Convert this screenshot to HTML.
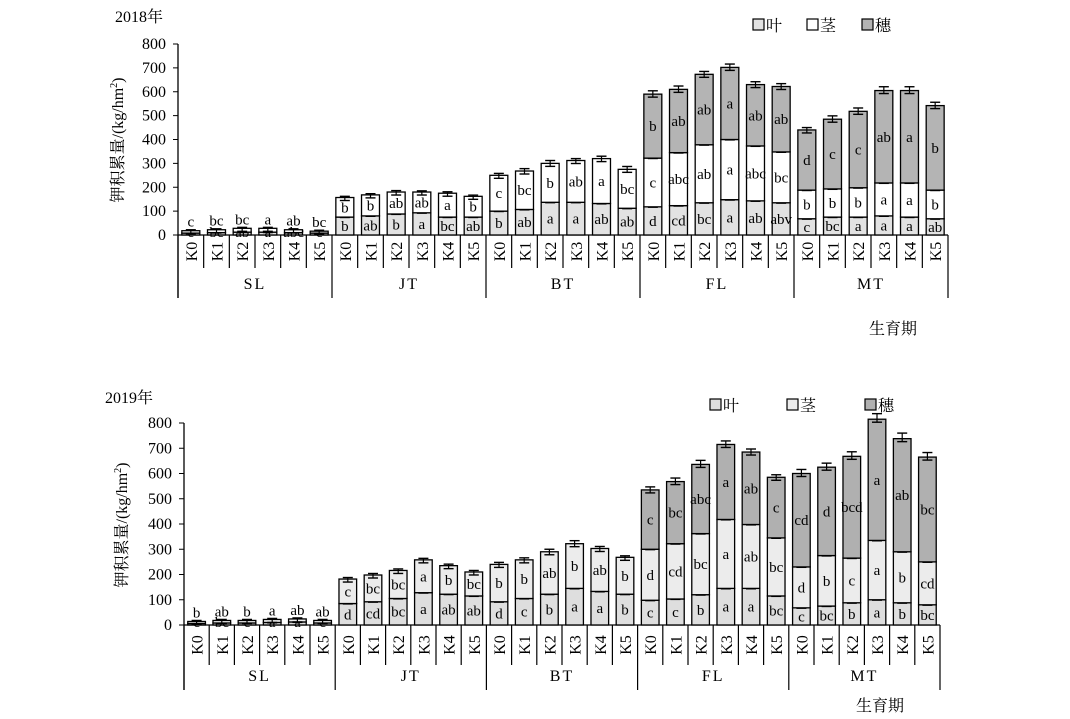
<!DOCTYPE html>
<html><head><meta charset="utf-8"><style>
html,body{margin:0;padding:0;background:#fff;}
svg{display:block;font-family:"Liberation Serif","Noto Serif CJK SC","Noto Sans CJK SC",serif;}
</style></head><body>
<svg id="chart" width="1070" height="719" viewBox="0 0 1070 719" xmlns="http://www.w3.org/2000/svg">
<text x="115" y="22" font-size="16">2018年</text>
<text x="105" y="403" font-size="16">2019年</text>
<text transform="translate(123,140) rotate(-90)" text-anchor="middle" font-size="16">钾积累量/(kg/hm<tspan font-size="10" dy="-6">2</tspan><tspan dy="6">)</tspan></text>
<text transform="translate(127,525) rotate(-90)" text-anchor="middle" font-size="16">钾积累量/(kg/hm<tspan font-size="10" dy="-6">2</tspan><tspan dy="6">)</tspan></text>
<text x="893" y="334" font-size="16" text-anchor="middle">生育期</text>
<text x="880" y="711" font-size="16" text-anchor="middle">生育期</text>
</svg>
<script>
const categories=["K0","K1","K2","K3","K4","K5"];
const groups=["SL","JT","BT","FL","MT"];
const yTicks=[0,100,200,300,400,500,600,700,800];
const leaf2018=[8,10,12,12,10,8, 75,80,88,93,75,75, 100,107,137,137,132,112, 118,123,135,148,143,135, 68,75,75,80,75,68];
const stem2018=[10,12,16,16,12,8, 82,88,92,87,100,87, 150,161,163,175,188,163, 204,222,243,252,230,213, 120,118,123,138,143,120];
const pan2018=[0,0,0,0,0,0, 0,0,0,0,0,0, 0,0,0,0,0,0, 268,265,295,302,257,274, 252,292,320,387,387,354];
const err2018=[4,4,4,4,4,4, 5,5,6,5,6,5, 8,10,12,8,10,12, 14,14,12,14,12,12, 10,14,14,16,16,14];
const leafLet2018=["e","bc","ab","a","abc","c", "b","ab","b","a","bc","ab", "b","ab","a","a","ab","ab", "d","cd","bc","a","ab","abv", "c","bc","a","a","a","ab"];
const stemLet2018=["c","bc","bc","a","ab","bc", "b","b","ab","ab","a","b", "c","bc","b","ab","a","bc", "c","abc","ab","a","abc","bc", "b","b","b","a","a","b"];
const panLet2018=["","","","","","", "","","","","","", "","","","","","", "b","ab","ab","a","ab","ab", "d","c","c","ab","a","b"];
const leaf2019=[6,8,8,10,12,8, 85,92,105,128,122,115, 92,105,122,145,133,122, 98,103,120,145,145,115, 68,75,88,100,88,80];
const stem2019=[8,10,10,12,12,10, 97,106,111,130,113,95, 148,153,168,177,170,146, 202,219,242,273,253,230, 162,200,177,235,202,170];
const pan2019=[0,0,0,0,0,0, 0,0,0,0,0,0, 0,0,0,0,0,0, 235,246,274,297,287,240, 370,350,403,480,448,415];
const err2019=[4,4,4,4,4,4, 6,6,6,6,6,6, 8,8,10,12,8,6, 12,14,16,14,12,10, 16,16,18,22,22,18];
const leafLet2019=["c","bc","c","a","a","c", "d","cd","bc","a","ab","ab", "d","c","b","a","a","b", "c","c","b","a","a","bc", "c","bc","b","a","b","bc"];
const stemLet2019=["b","ab","b","a","ab","ab", "c","bc","bc","a","b","bc", "b","b","ab","b","ab","b", "d","cd","bc","a","ab","bc", "d","b","c","a","b","cd"];
const panLet2019=["","","","","","", "","","","","","", "","","","","","", "c","bc","abc","a","ab","c", "cd","d","bcd","a","ab","bc"];

const NS="http://www.w3.org/2000/svg";
const svg=document.getElementById("chart");
function mk(tag,attrs,parent){const e=document.createElementNS(NS,tag);for(const k in attrs)e.setAttribute(k,attrs[k]);(parent||svg).appendChild(e);return e;}

function drawChart(cfg){
  const g=mk("g",{});
  
  
  const n=groups.length*categories.length;
  const slot=(cfg.x1-cfg.x0)/n;
  const yS=v=>cfg.y0-(v/800)*(cfg.y0-cfg.yTop);
  const xS=i=>cfg.x0+slot*(i+0.5);
  const bw=slot*0.7;
  // y axis
  const ax=mk("line",{x1:cfg.x0,x2:cfg.x0,y1:cfg.yTop,y2:cfg.groupBottom,stroke:"#000","stroke-width":1.3},g);
  
  
  yTicks.forEach(t=>{
    mk("line",{x1:cfg.x0-5,x2:cfg.x0,y1:yS(t),y2:yS(t),stroke:"#000"},g);
    const tx=mk("text",{x:cfg.x0-12,y:yS(t)+5,"text-anchor":"end","font-size":16},g);
    tx.textContent=t;
    
    
  });
  const xa=mk("line",{x1:cfg.x0,x2:cfg.x1,y1:cfg.y0,y2:cfg.y0,stroke:"#000","stroke-width":1.3},g);
  
  
  // category separators & labels
  for(let i=0;i<=n;i++){
    const x=cfg.x0+slot*i;
    const isG=i%categories.length===0;
    mk("line",{x1:x,x2:x,y1:cfg.y0,y2:isG?cfg.groupBottom:cfg.catBottom,stroke:"#000","stroke-width":1.2},g);
  }
  for(let i=0;i<n;i++){
    const cy=(cfg.y0+cfg.catBottom)/2;
    const t=mk("text",{transform:`translate(${xS(i)+6},${cy}) rotate(-90)`,"text-anchor":"middle","font-size":16},g);
    t.textContent=categories[i%categories.length];
    
    
  }
  groups.forEach((gr,j)=>{
    const t=mk("text",{x:cfg.x0+slot*(j*6+3),y:cfg.groupLabelY,"text-anchor":"middle","font-size":16,"letter-spacing":"2"},g);
    t.textContent=gr;
    
    
  });
  // bars
  for(let i=0;i<n;i++){
    const segs=[[cfg.leaf[i],cfg.leafFill,cfg.leafLet[i],"leaf"],[cfg.stem[i],cfg.stemFill,cfg.stemLet[i],"stem"],[cfg.pan[i],cfg.panFill,cfg.panLet[i],"panicle"]];
    let base=0;
    segs.forEach(([v,fill,lt,nm],si)=>{
      if(v<=0)return;
      const yt=yS(base+v), yb=yS(base);
      const r=mk("rect",{x:xS(i)-bw/2,y:yt,width:bw,height:yb-yt,fill:fill,stroke:"#000","stroke-width":1.3},g);
      
      
      if(si<2 && (segs[si+1][0]>0||si===0)){
        mk("line",{x1:xS(i)-5,x2:xS(i)+5,y1:yt,y2:yt,stroke:"#000","stroke-width":2.2},g);
      }
      if(lt){
        let ty=(yt+yb)/2+5;
        if(yb-yt<14){ ty = nm==="leaf" ? cfg.y0+2 : yt-4; }
        const t=mk("text",{x:xS(i),y:ty,"text-anchor":"middle","font-size":15},g);
        t.textContent=lt;
        
        
      }
      base+=v;
    });
    const tot=base, e=cfg.err[i];
    const ya=yS(tot+e), yb2=yS(tot);
    mk("line",{x1:xS(i),x2:xS(i),y1:ya,y2:yb2+3,stroke:"#000","stroke-width":1.2},g);
    mk("line",{x1:xS(i)-5,x2:xS(i)+5,y1:ya,y2:ya,stroke:"#000","stroke-width":1.4},g);
    mk("line",{x1:xS(i)-5,x2:xS(i)+5,y1:yb2+3,y2:yb2+3,stroke:"#000","stroke-width":1.4},g);
  }
  // legend
  const labels=["叶","茎","穗"],fills=[cfg.leafFill,cfg.stemFill,cfg.panFill];
  cfg.legendX.forEach((lx,k)=>{
    const r=mk("rect",{x:lx,y:cfg.legendY-11,width:11,height:11,fill:fills[k],stroke:"#000","stroke-width":1.2},g);
    
    
    const t=mk("text",{x:lx+13,y:cfg.legendY+1,"font-size":16},g);
    t.textContent=labels[k];
    
    
  });
}
drawChart({year:2018,x0:178,x1:948,y0:235,yTop:44,catBottom:268,groupBottom:298,groupLabelY:289,
  leaf:leaf2018,stem:stem2018,pan:pan2018,err:err2018,leafLet:leafLet2018,stemLet:stemLet2018,panLet:panLet2018,
  leafFill:"#e2e2e2",stemFill:"#ffffff",panFill:"#b4b4b4",legendX:[753,807,862],legendY:30});
drawChart({year:2019,x0:184,x1:940,y0:625,yTop:423,catBottom:665,groupBottom:690,groupLabelY:681,
  leaf:leaf2019,stem:stem2019,pan:pan2019,err:err2019,leafLet:leafLet2019,stemLet:stemLet2019,panLet:panLet2019,
  leafFill:"#dedede",stemFill:"#ececec",panFill:"#b0b0b0",legendX:[710,787,865],legendY:410});
</script>
</body></html>
